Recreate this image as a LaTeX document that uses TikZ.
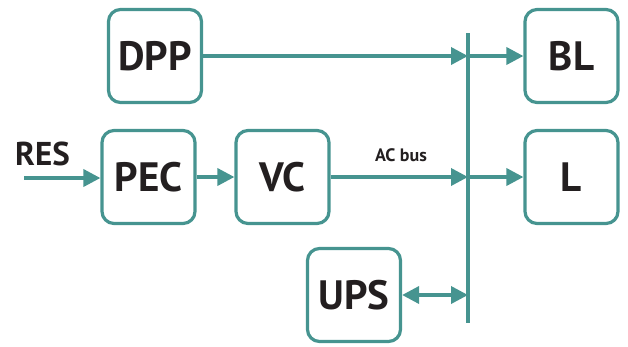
\documentclass[tikz,border=0pt]{standalone}
\usepackage{fontspec}
\setmainfont{PT Sans}
\usetikzlibrary{arrows.meta, positioning, calc}

\begin{document}
\begin{tikzpicture}[
    x=1pt, y=-1pt,
    every node/.style={font=\bfseries},
    blk/.style={
        rectangle, rounded corners=12pt,
        draw={rgb,255:red,70;green,148;blue,144},
        line width=3.2pt,
        fill=white,
        text={rgb,255:red,35;green,31;blue,32},
        minimum width=93pt, minimum height=93pt,
        inner sep=0pt, font=\fontsize{41}{44}\selectfont\bfseries
    },
    arr/.style={
        -{Triangle[length=17pt,width=17pt]},
        line width=3.6pt,
        color={rgb,255:red,70;green,148;blue,144}
    },
    darr/.style={
        {Triangle[length=17pt,width=17pt]}-{Triangle[length=17pt,width=17pt]},
        line width=3.6pt,
        color={rgb,255:red,70;green,148;blue,144}
    },
    bus/.style={
        line width=3.6pt,
        color={rgb,255:red,70;green,148;blue,144}
    },
    lbl/.style={
        text={rgb,255:red,35;green,31;blue,32},
        inner sep=0pt
    }
]
\useasboundingbox (0,0) rectangle (628,346);

%% -- Blocks --------------------------------------------------------
\node[blk] (dpp) at (155, 56)    {DPP};
\node[blk] (pec) at (148.5, 177) {PEC};
\node[blk] (vc)  at (282.5, 177) {VC};
\node[blk] (ups) at (354, 295)   {UPS};
\node[blk] (bl)  at (571.5, 56)  {BL};
\node[blk] (ld)  at (571.5, 177) {L};

%% -- AC bus --------------------------------------------------------
\coordinate (bustop) at (468, 33);
\coordinate (busbot) at (468, 323);
\draw[bus] (bustop) -- (busbot);

%% -- Source side ---------------------------------------------------
\coordinate (res) at (24, 178);
\node[lbl, font=\fontsize{33}{36}\selectfont\bfseries, anchor=west] (restxt) at (15, 154) {RES};
\draw[arr] (res) -- (res -| pec.west);
\draw[arr] (pec) -- (vc);

%% -- Into and out of the bus ---------------------------------------
\draw[arr] (dpp.east) -- (dpp.east -| bustop);
\draw[arr] (vc.east)  -- (vc.east -| bustop);
\draw[arr] (bl.west -| bustop) -- (bl.west);
\draw[arr] (ld.west -| bustop) -- (ld.west);
\draw[darr] (ups.east) -- (ups.east -| bustop);

\node[lbl, font=\fontsize{18}{20}\selectfont\bfseries] (acbus) at (401, 155) {AC bus};

\end{tikzpicture}
\end{document}
